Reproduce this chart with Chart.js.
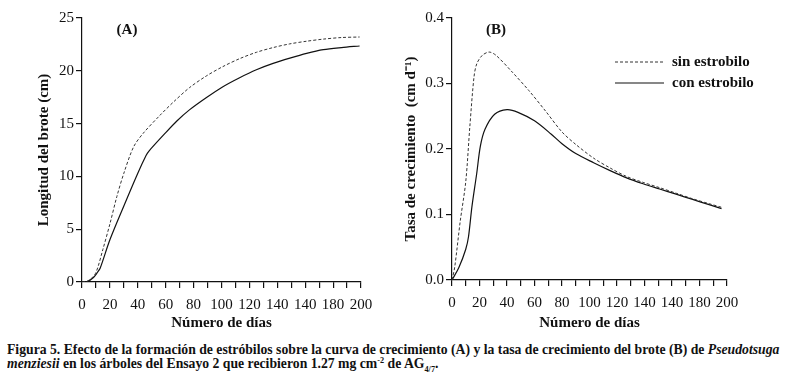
<!DOCTYPE html>
<html>
<head>
<meta charset="utf-8">
<script src="https://cdn.jsdelivr.net/npm/chart.js@4/dist/chart.umd.min.js"></script>
<style>
  html, body { margin: 0; padding: 0; background: #fff; }
  #wrap { position: relative; width: 785px; height: 390px; overflow: hidden; }
  #boxA { position: absolute; left: 0; top: 0; width: 392px; height: 335px; }
  #boxB { position: absolute; left: 392px; top: 0; width: 393px; height: 335px; }
  #caption {
    position: absolute; left: 7px; top: 342px; white-space: nowrap;
    font-family: 'Liberation Serif', serif; font-weight: bold; font-size: 15px;
    line-height: 14px; color: #111; transform-origin: 0 0;
  }
  #caption sup { font-size: 9px; vertical-align: 5px; line-height: 0; }
  #caption sub { font-size: 9px; vertical-align: -4px; line-height: 0; }
</style>
</head>
<body>
<div id="wrap">
  <div id="boxA"><canvas id="chartA"></canvas></div>
  <div id="boxB"><canvas id="chartB"></canvas></div>
  <div id="caption">
    <div id="capLine1">Figura 5. Efecto de la formación de estróbilos sobre la curva de crecimiento (A) y la tasa de crecimiento del brote (B) de <i>Pseudotsuga</i></div>
    <div><i>menziesii</i> en los árboles del Ensayo 2 que recibieron 1.27 mg cm<sup>-2</sup> de AG<sub>4/7</sub>.</div>
  </div>
</div>
<script>
// tick labels as printed (note the repeated 140)
const xTickLabels = ['0', '20', '40', '60', '80', '100', '120', '140', '140', '180', '200'];

// (A) shoot length, cm
const daysA_sin = [0, 3, 6, 10, 15, 20, 25, 30, 37, 44, 56, 66, 77, 89, 101, 113, 125, 137, 149, 161, 173, 186, 199];
const lenA_sin = [0, 0.05, 0.25, 0.9, 3.1, 5.5, 8.1, 10.3, 12.8, 14.1, 15.8, 17.1, 18.4, 19.5, 20.4, 21.15, 21.75, 22.2, 22.55, 22.8, 23.0, 23.15, 23.2];
const daysA_con = [0, 4, 8, 11, 13, 20, 30, 40, 46, 48, 59, 68, 77, 89, 101, 113, 125, 137, 149, 161, 173, 186, 199];
const lenA_con = [0, 0.05, 0.4, 0.9, 1.3, 4.0, 7.2, 10.3, 12.0, 12.4, 14.0, 15.25, 16.3, 17.45, 18.5, 19.35, 20.1, 20.7, 21.2, 21.65, 22.0, 22.2, 22.35];

// (B) growth rate, cm d-1
const daysB_sin = [0, 2, 6, 10, 13, 16, 18, 22, 27, 32, 44, 56, 68, 80, 90, 103, 115, 127, 139, 151, 163, 175, 187, 196];
const rateB_sin = [0, 0.02, 0.09, 0.15, 0.235, 0.31, 0.33, 0.343, 0.348, 0.343, 0.317, 0.289, 0.258, 0.226, 0.207, 0.186, 0.171, 0.158, 0.149, 0.141, 0.1325, 0.124, 0.1165, 0.111];
const daysB_con = [0, 5, 10, 12, 14.5, 18, 20.6, 24, 31, 40, 48, 60, 72, 80, 90, 103, 115, 127, 139, 151, 163, 175, 187, 196];
const rateB_con = [0, 0.019, 0.047, 0.066, 0.112, 0.163, 0.204, 0.23, 0.253, 0.26, 0.256, 0.243, 0.223, 0.208, 0.193, 0.179, 0.167, 0.156, 0.147, 0.139, 0.131, 0.123, 0.115, 0.109];

const seriesNames = ['sin estrobilo', 'con estrobilo'];

Chart.defaults.font.family = "'Liberation Serif', serif";
Chart.defaults.color = '#111';

function pts(xs, ys) {
    return xs.map((x, i) => ({ x: x, y: ys[i] }));
}

function lineSet(label, data, dashed) {
    return {
        label: label,
        data: data,
        borderColor: dashed ? '#333' : '#111',
        borderWidth: dashed ? 1 : 1.2,
        borderDash: dashed ? [3, 2] : [],
        pointRadius: 0,
        fill: false,
        tension: 0.3
    };
}

// extra text drawn on the canvas: panel letter and (for B) the legend
const panelText = {
    id: 'panelText',
    afterDraw(chart, args, opts) {
        const ctx = chart.ctx;
        ctx.save();
        ctx.fillStyle = '#111';
        ctx.font = "bold 15px 'Liberation Serif'";
        ctx.textAlign = 'center';
        ctx.textBaseline = 'middle';
        ctx.fillText(opts.letter, opts.lx, opts.ly);
        if (opts.legend) {
            ctx.textAlign = 'left';
            chart.data.datasets.forEach((ds, i) => {
                const y = 62 + i * 21;
                ctx.strokeStyle = ds.borderColor;
                ctx.lineWidth = ds.borderWidth;
                ctx.setLineDash(ds.borderDash);
                ctx.beginPath();
                ctx.moveTo(223, y);
                ctx.lineTo(272, y);
                ctx.stroke();
                ctx.setLineDash([]);
                ctx.fillText(ds.label, 280, y);
            });
        }
        ctx.restore();
    }
};

function makeChart(canvas, cfg) {
    const config = {
        type: 'line',
        data: { datasets: cfg.datasets },
        options: {
            responsive: true,
            maintainAspectRatio: false,
            animation: false,
            layout: { padding: { top: 18, right: cfg.padRight, bottom: 0, left: 0 } },
            plugins: {
                legend: { display: false },
                tooltip: { enabled: false },
                panelText: cfg.panel
            },
            scales: {
                x: {
                    type: 'linear',
                    min: 0,
                    max: 200,
                    afterFit: s => { s.height = cfg.xHeight; },
                    border: { display: true, color: '#111', width: 1.2 },
                    grid: { drawOnChartArea: false, drawTicks: true, tickLength: 6, color: '#111', lineWidth: 1.2 },
                    ticks: {
                        stepSize: 10,
                        autoSkip: false,
                        maxRotation: 0,
                        padding: 8,
                        color: '#111',
                        font: { size: 15 },
                        callback: (v) => (v % 20 === 0 ? xTickLabels[v / 20] : '')
                    },
                    title: {
                        display: true,
                        text: 'Número de días',
                        color: '#111',
                        font: { size: 15, weight: 'bold' },
                        padding: { top: 0, bottom: 3 }
                    }
                },
                y: {
                    min: cfg.yMin,
                    max: cfg.yMax,
                    afterFit: s => { s.width = cfg.yWidth; },
                    border: { display: true, color: '#111', width: 1.2 },
                    grid: { drawOnChartArea: false, drawTicks: true, tickLength: 6, color: '#111', lineWidth: 1.2 },
                    ticks: {
                        stepSize: cfg.yStep,
                        padding: 2,
                        color: '#111',
                        font: { size: 15 },
                        callback: cfg.yFmt
                    },
                    title: {
                        display: true,
                        text: cfg.yTitle,
                        color: '#111',
                        font: { size: 15, weight: 'bold' },
                        padding: { top: cfg.yTitlePad, bottom: 0 }
                    }
                }
            }
        },
        plugins: [panelText]
    };
    return new Chart(canvas.getContext('2d'), config);
}

var chartA = makeChart(document.getElementById('chartA'), {
    datasets: [
        lineSet(seriesNames[0], pts(daysA_sin, lenA_sin), true),
        lineSet(seriesNames[1], pts(daysA_con, lenA_con), false)
    ],
    padRight: 31,
    xHeight: 53,
    yWidth: 82,
    yMin: 0, yMax: 25, yStep: 5,
    yFmt: v => String(v),
    yTitle: 'Longitud del brote (cm)',
    yTitlePad: 35,
    panel: { letter: '(A)', lx: 127, ly: 30, legend: false }
});

var chartB = makeChart(document.getElementById('chartB'), {
    datasets: [
        lineSet(seriesNames[0], pts(daysB_sin, rateB_sin), true),
        lineSet(seriesNames[1], pts(daysB_con, rateB_con), false)
    ],
    padRight: 58,
    xHeight: 55,
    yWidth: 60,
    yMin: 0, yMax: 0.4, yStep: 0.1,
    yFmt: v => v.toFixed(1),
    yTitle: 'Tasa de crecimiento  (cm d\u207B\u00B9)',
    yTitlePad: 10,
    panel: { letter: '(B)', lx: 104, ly: 30, legend: true }
});

// squeeze the caption to the printed width
const cap = document.getElementById('caption');
const w1 = document.getElementById('capLine1').scrollWidth;
cap.style.transform = 'scaleX(' + (772 / w1) + ')';
</script>
</body>
</html>
